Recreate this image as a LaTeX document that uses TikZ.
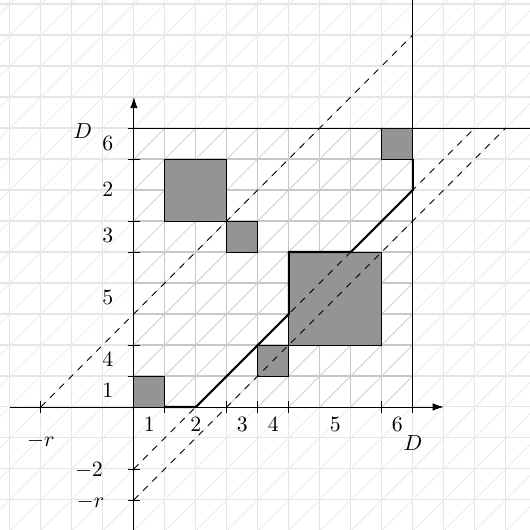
\documentclass[tikz,border=0pt]{standalone}
\usepackage{amsmath,amssymb}
\usepackage{tikz}
\usetikzlibrary{arrows.meta}

\definecolor{blockgray}{gray}{0.58}

\begin{document}
\begin{tikzpicture}[
      x=0.5cm, y=0.5cm,
      outgrid/.style={black!10,line width=0.5pt},
      outdiag/.style={black!8,line width=0.4pt},
      ingrid/.style={black!22,line width=0.5pt},
      indiag/.style={black!19,line width=0.4pt},
      blk/.style={draw=black,fill=blockgray},
      cut/.style={dashed,black},
      sched/.style={line width=1pt,black},
      axis/.style={-{Latex[length=1.8mm,width=1.2mm]},black},
      tck/.style={black},
      lab/.style={anchor=base},
    ]
    \useasboundingbox (-4.32,-3.97) rectangle (12.78,13.13);
    \clip (-4.32,-3.97) rectangle (12.78,13.13);

    % background grid
    \foreach \i in {-5,...,13} {
      \draw[outgrid] (\i,-5) -- (\i,14);
    }
    \foreach \j in {-4,...,14} {
      \draw[outgrid] (-5,\j) -- (13,\j);
    }
    \foreach \k in {-18,...,18} {
      \draw[outdiag] (-5,-5+\k) -- (14,14+\k);
    }
    \begin{scope}
      \clip (0,0) rectangle (9,9);
      \fill[white] (0,0) rectangle (9,9);
      \foreach \i in {1,...,8} {
        \draw[ingrid] (\i,0) -- (\i,9);
        \draw[ingrid] (0,\i) -- (9,\i);
      }
      \foreach \k in {-9,...,9} {
        \draw[indiag] (0,\k) -- (9,9+\k);
      }
    \end{scope}

    % blocks
    \draw[blk] (0,0) rectangle (1,1);
    \draw[blk] (1,6) rectangle (3,8);
    \draw[blk] (3,5) rectangle (4,6);
    \draw[blk] (4,1) rectangle (5,2);
    \draw[blk] (5,2) rectangle (8,5);
    \draw[blk] (8,8) rectangle (9,9);

    % band
    \coordinate (u0) at (-3,0);  \coordinate (u1) at (9,12);
    \coordinate (l0) at (0,-2);  \coordinate (l1) at (11,9);
    \coordinate (m0) at (0,-3);  \coordinate (m1) at (12,9);
    \draw[cut] (u0) -- (u1);
    \draw[cut] (l0) -- (l1);
    \draw[cut] (m0) -- (m1);

    \draw[sched] (1,0) -- (2,0) -- (5,3) -- (5,5) -- (7,5) -- (9,7) -- (9,8);

    % axes
    \draw[axis] (-4,0) -- (10,0);
    \draw[axis] (0,-4) -- (0,10);
    \draw (0,9) -- (13.5,9);
    \draw (9,0) -- (9,13.5);

    \foreach \x in {-3,1,3,4,5,8,9} {
      \draw[tck] (\x,-0.2) -- (\x,0.2);
    }
    \foreach \y in {-3,-2,1,2,5,6,8,9} {
      \draw[tck] (-0.2,\y) -- (0.2,\y);
    }

    % labels on the horizontal axis
    \node[lab] (x1) at (0.5,-0.8) {1};
    \node[lab] (x2) at (2,-0.8) {2};
    \node[lab] (x3) at (3.5,-0.8) {3};
    \node[lab] (x4) at (4.5,-0.8) {4};
    \node[lab] (x5) at (6.5,-0.8) {5};
    \node[lab] (x6) at (8.5,-0.8) {6};
    \node[lab] (xD) at (9,-1.39) {$D$};
    \node[lab] (xr) at (-3,-1.29) {$-r$};

    % labels on the vertical axis
    \node[lab] (y1) at (-0.84,0.29) {1};
    \node[lab] (y4) at (-0.84,1.29) {4};
    \node[lab] (y5) at (-0.84,3.29) {5};
    \node[lab] (y3) at (-0.84,5.29) {3};
    \node[lab] (y2) at (-0.84,6.79) {2};
    \node[lab] (y6) at (-0.84,8.29) {6};
    \node[lab] (yD) at (-1.65,8.65) {$D$};
    \node[lab] (ym2) at (-1.45,-2.25) {$-2$};
    \node[lab] (yr) at (-1.4,-3.23) {$-r$};
  \end{tikzpicture}
\end{document}
